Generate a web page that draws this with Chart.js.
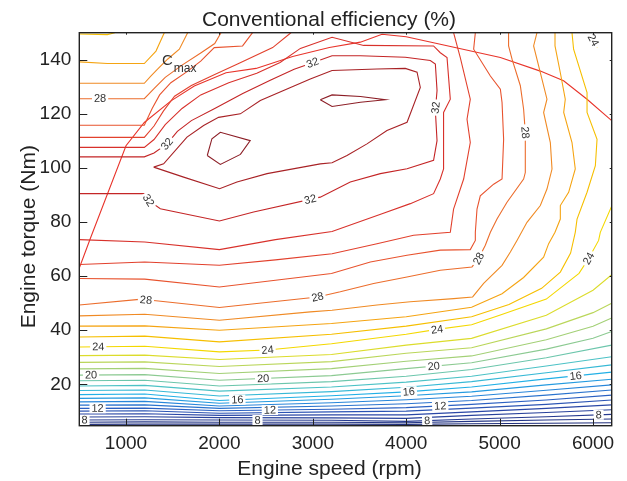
<!DOCTYPE html>
<html><head><meta charset="utf-8">
<script src="https://cdn.jsdelivr.net/npm/chart.js@4.4.1/dist/chart.umd.min.js"></script>
<style>html,body{margin:0;padding:0;background:#fff}#wrap{width:627px;height:481px}</style>
</head><body><div id="wrap"><canvas id="c" width="627" height="481"></canvas></div>
<script>
// ---- axes ----
const xTicks=[1000,2000,3000,4000,5000,6000];
const yTicks=[20,40,60,80,100,120,140];
const xRange=[500,6200];
const yRange=[4.7,150];

// ---- contour levels on a shared speed grid (torque in Nm) ----
const speedGrid=[500,1200,2000,3200,4000,4700,5500,6200];
const speedGridR=[500,1200,2000,3200,4000,4700,5500,6000,6200];
const c6 =[5.2,5.3,5.3,5.3,5.2,5.4,5.6,5.8];
const c7 =[6.0,6.1,6.0,6.0,5.8,6.3,6.8,7.2];
const c8 =[6.8,6.9,6.8,6.7,6.3,7.2,8.0,8.9];
const c9 =[7.9,8.0,7.7,7.6,7.4,8.5,9.6,10.6];
const c10=[9.0,9.1,8.5,8.7,8.7,9.8,11.1,12.4];
const c11=[10.1,10.2,9.3,9.8,10.1,11.2,12.6,14.2];
const c12=[11.1,11.2,10.2,10.8,11.4,12.6,14.2,16.0];
const c13=[12.3,12.4,11.1,12.0,12.8,14.0,16.0,17.9];
const c14=[13.5,13.7,12.0,13.2,14.3,15.6,17.8,19.8];
const c15=[14.8,15.0,13.0,14.5,15.8,17.2,19.8,21.9];
const c16=[16.2,16.4,14.0,15.8,17.2,19.0,22.0,24.5];
const c17=[17.7,17.9,15.7,17.3,18.9,21.0,24.3,27.2];
const c18=[19.4,19.6,17.5,19.0,20.8,23.0,26.8,30.2];
const c19=[21.3,21.5,19.4,21.0,23.0,25.5,29.8,34.5];
const c20=[23.4,23.6,21.5,23.2,25.8,28.0,33.0,37.0,39.5];
const c21=[25.7,25.9,24.0,25.8,28.5,30.5,36.5,41.5,44.5];
const c22=[28.1,28.3,26.6,28.4,31.5,33.5,40.5,46.5,50.0];
const c23=[30.6,30.8,29.2,31.0,34.5,37.0,45.5,54.8,60.5];

// ---- free-form contour paths [speed, torque] ----
const c24=[[500,33.8],[1200,34.1],[2000,32.0],[2516,32.7],[3200,35.0],[4000,38.5],[4330,40.3],[4700,42.0],[5000,45.5],[5500,51.5],[5850,61.0],[5953,66.5],[6060,73.2],[6078,76.2],[6203,86.1]];
const c24top=[[5960,150],[6045,144.5]];
const c25=[[500,37.5],[1200,37.8],[2000,35.7],[3200,38.5],[4000,41.5],[4700,45.0],[5100,49.5],[5450,55.5],[5650,61.5],[5760,68.5],[5810,76.2],[5829,81.1],[5936,91.0],[6025,100.8],[6043,110.6],[5936,120.5],[5936,127.9],[5792,143.9],[5775,150]];
const c25top=[[500,149.5],[800,149.3],[880,150]];
const c26=[[500,41.5],[1200,41.6],[2000,40.0],[3200,42.5],[4000,45.0],[4700,48.5],[5026,53.5],[5257,59.5],[5471,67.0],[5525,72.0],[5593,76.2],[5650,81.1],[5650,86.1],[5739,91.0],[5810,99.6],[5775,109.4],[5686,120.5],[5703,125.4],[5650,135.2],[5593,145.1],[5593,150]];
const c26top=[[500,139.2],[800,138.6],[1196,138.6],[1321,143.2],[1410,150]];
const c27=[[500,45.3],[1200,45.9],[2000,43.7],[2973,46.8],[3206,47.4],[3687,49.3],[4044,50.5],[4508,51.7],[4711,52.3],[4829,57.3],[5026,64.0],[5115,68.9],[5186,73.2],[5293,79.9],[5436,86.1],[5507,92.2],[5561,99.6],[5543,109.4],[5471,120.5],[5507,125.4],[5436,135.2],[5364,145.1],[5400,150]];
const c27top=[[500,131.3],[1196,131.3],[1268,134.0],[1338,136.5],[1445,140.2],[1571,143.9],[1660,150]];
const c28=[[500,49.3],[1142,51.4],[1321,50.9],[2000,48.4],[3051,52.3],[3294,54.2],[3651,57.3],[4008,59.7],[4365,62.2],[4704,63.4],[4775,66.5],[4847,71.4],[4901,76.2],[4972,81.1],[5079,87.3],[5257,95.9],[5275,98.3],[5275,113.1],[5257,121.7],[5222,130.4],[5133,140.2],[5096,145.1],[5096,150]];
const c28top=[[500,125.6],[1196,125.6],[1300,129.3],[1420,133.5],[1600,138.0],[1800,142.5],[1950,146.0],[2017,150]];
const c29=[[500,59.1],[1200,58.9],[2000,56.0],[2600,58.5],[3200,61.0],[3616,65.2],[4008,67.7],[4365,69.6],[4686,69.8],[4740,73.2],[4740,76.2],[4758,84.8],[4793,89.7],[4936,94.0],[5026,95.9],[5043,110.6],[5026,124.2],[5008,129.1],[4901,134.0],[4722,143.9],[4740,150]];
const c29top=[[500,115.8],[1196,115.8],[1280,122.0],[1360,127.0],[1480,131.5],[1650,135.5],[1800,139.5],[1945,144.5],[2248,145.1],[2355,150]];
const c30=[[500,64.3],[1200,65.2],[2000,64.0],[2600,66.0],[3206,68.3],[3687,72.0],[4079,75.1],[4472,76.2],[4507,84.8],[4615,95.9],[4686,109.4],[4651,118.0],[4686,125.4],[4579,140.8],[4507,150]];
const c30top=[[500,111.3],[1196,111.3],[1300,115.5],[1400,121.0],[1520,126.5],[1700,130.5],[1950,134.5],[2200,138.5],[2570,144.5],[2766,150]];
const c31=[[500,107.6],[1196,107.6],[1300,110.5],[1420,116.0],[1600,122.0],[1800,127.0],[2100,131.5],[2400,135.0],[2650,139.0],[2867,144.2],[3206,148.3],[3544,145.3],[4293,145.1],[4365,142.6],[4437,140.8],[4472,125.4],[4400,120.5],[4400,99.6],[4365,95.9],[4293,90.5],[4044,86.8],[3741,83.1],[3206,76.5],[2600,73.5],[2000,69.8],[1200,72.6],[500,73.5]];
const c32=[[500,104.1],[1196,104.1],[1300,105.5],[1439,108.9],[1550,113.5],[1700,117.5],[1950,122.0],[2250,127.5],[2550,132.5],[2800,136.5],[2998,138.9],[3206,141.5],[3509,141.5],[3990,140.9],[4258,139.7],[4312,138.4],[4330,128.6],[4312,121.2],[4330,110.1],[4293,102.8],[4009,99.7],[3723,97.9],[3401,94.8],[3080,89.2],[2366,83.7],[2000,80.4],[1367,84.9],[1242,88.0],[1196,90.5],[500,90.5]];
const c33=[[1296,100.3],[1617,96.6],[2002,92.3],[2188,94.8],[2510,97.9],[3080,101.5],[3206,101.9],[3366,104.6],[3580,108.9],[3794,113.8],[4009,116.9],[4151,129.8],[4116,135.4],[3990,136.8],[3687,136.6],[3206,136.0],[2973,132.9],[2438,124.9],[2224,120.0],[1991,118.7],[1831,115.7],[1653,111.4],[1403,101.5],[1296,100.3]];
const c34a=[[1870,104.6],[1920,110.8],[2010,113.2],[2330,110.1],[2225,105.0],[2010,101.3],[1870,104.6]];
const c34b=[[3080,125.2],[3206,127.0],[3510,126.4],[3776,125.2],[3510,124.3],[3206,122.7],[3080,125.2]];
const cmax=[[500,63.0],[618,73.9],[1000,108.2],[1196,116.8],[1482,124.8],[1731,130.3],[2071,135.2],[2392,136.8],[2784,141.2],[3177,144.5],[3509,146.5],[3741,149.4],[4000,148.5],[4365,145.7],[5008,140.8],[5436,135.8],[5685,132.2],[5936,125.4],[6203,117.4]];

// ---- labels: line name, fractional vertex index, text ----
const contourLabels=[
 ['c8',0.08,'8'],['c8',2.34,'8'],['c8',4.32,'8'],['c8',6.8,'8'],
 ['c12',0.28,'12'],['c12',2.45,'12'],['c12',4.52,'12'],
 ['c16',2.16,'16'],['c16',4.04,'16'],['c16',6.45,'16'],
 ['c20',0.18,'20'],['c20',2.39,'20'],['c20',4.42,'20'],
 ['c24',0.29,'24'],['c24',3.0,'24'],['c24',6.0,'24'],['c24',11.0,'24'],['c24top',0.5,'24'],
 ['c28',1.4,'28'],['c28',4.0,'28'],['c28',10.0,'28'],['c28',17.0,'28'],['c28top',0.32,'28'],
 ['c32',3.0,'32'],['c32',10.0,'32'],['c32',16.85,'32'],['c32',23.15,'32'],['c32',27.0,'32']
];
const cmaxLabelPos=[1385,138.1];

// ---- colour map (level -> colour) ----
const cmapStops=[[5,'#1d2a72'],[8,'#263a90'],[10,'#2a47a6'],[12,'#2b60c2'],[14,'#2886da'],[16,'#22b0e6'],[18,'#4cc2c6'],[20,'#8cca92'],[22,'#bad65a'],[23,'#dcdc2c'],[24,'#f4d800'],[25,'#f6bf00'],[26,'#f5a412'],[27,'#f08a24'],[28,'#ec6d2c'],[29,'#e8532e'],[30,'#e2412d'],[31,'#d8312b'],[32,'#c42526'],[33,'#a82226'],[34,'#8c1e26']];
function hex2rgb(h){return [1,3,5].map(i=>parseInt(h.substr(i,2),16));}
function levelColor(l){
  for(let i=0;i<cmapStops.length-1;i++){
    const [a,ca]=cmapStops[i],[b,cb]=cmapStops[i+1];
    if(l>=a&&l<=b){const f=(l-a)/(b-a),A=hex2rgb(ca),B=hex2rgb(cb);
      return 'rgb('+A.map((v,k)=>Math.round(v+(B[k]-v)*f)).join(',')+')';}
  }
  return l<5?cmapStops[0][1]:cmapStops[cmapStops.length-1][1];
}

// ---- assemble lines ----
const lines={};
[[6,c6],[7,c7],[8,c8],[9,c9],[10,c10],[11,c11],[12,c12],[13,c13],[14,c14],[15,c15],[16,c16],[17,c17],[18,c18],[19,c19],[20,c20],[21,c21],[22,c22],[23,c23]]
 .forEach(([lev,arr])=>{const g=arr.length===speedGridR.length?speedGridR:speedGrid;
   lines['c'+lev]={level:lev,pts:g.map((s,i)=>[s,arr[i]])};});
Object.entries({c24:[24,c24],c24top:[24,c24top],c25:[25,c25],c25top:[25,c25top],c26:[26,c26],c26top:[26,c26top],
 c27:[27,c27],c27top:[27,c27top],c28:[28,c28],c28top:[28,c28top],c29:[29,c29],c29top:[29,c29top],
 c30:[30,c30],c30top:[30,c30top],c31:[31,c31],c32:[32,c32],c33:[33,c33],c34a:[34,c34a],c34b:[34,c34b]})
 .forEach(([k,[lev,p]])=>{lines[k]={level:lev,pts:p};});

const datasets=Object.entries(lines).map(([k,L])=>({
  label:k,data:L.pts.map(p=>({x:p[0],y:p[1]})),showLine:true,borderColor:levelColor(L.level),
  borderWidth:1.1,pointRadius:0,tension:0,fill:false}));
datasets.push({label:'cmax',data:cmax.map(p=>({x:p[0],y:p[1]})),showLine:true,borderColor:'#e8342b',borderWidth:1.1,pointRadius:0,tension:0,fill:false});

const FONT='"Liberation Sans", Arial, Helvetica, sans-serif';
const deco={
 id:'deco',
 afterDatasetsDraw(chart){
  const {ctx,chartArea:a,scales:{x,y}}=chart;
  ctx.save();
  ctx.beginPath();ctx.rect(a.left,a.top,a.right-a.left,a.bottom-a.top);ctx.clip();
  ctx.font='11px '+FONT;ctx.textAlign='center';ctx.textBaseline='middle';
  contourLabels.forEach(([name,t,text])=>{
    const pts=lines[name].pts;const i=Math.min(Math.floor(t),pts.length-2);const f=t-i;
    const x0=x.getPixelForValue(pts[i][0]),y0=y.getPixelForValue(pts[i][1]);
    const x1=x.getPixelForValue(pts[i+1][0]),y1=y.getPixelForValue(pts[i+1][1]);
    const cx=x0+(x1-x0)*f,cy=y0+(y1-y0)*f;
    let ang=Math.atan2(y1-y0,x1-x0);
    if(ang>Math.PI/2)ang-=Math.PI;if(ang<-Math.PI/2)ang+=Math.PI;
    ctx.save();ctx.translate(cx,cy);ctx.rotate(ang);
    const w=ctx.measureText(text).width+4;
    ctx.fillStyle='#fff';ctx.fillRect(-w/2,-5,w,10);
    ctx.fillStyle='#333';ctx.fillText(text,0,0.5);
    ctx.restore();
  });
  // Cmax label
  const lx=x.getPixelForValue(cmaxLabelPos[0]),ly=y.getPixelForValue(cmaxLabelPos[1]);
  ctx.fillStyle='#333';ctx.textAlign='left';ctx.textBaseline='alphabetic';
  ctx.font='15px '+FONT;ctx.fillText('C',lx,ly);
  const cw=ctx.measureText('C').width;
  ctx.font='12px '+FONT;ctx.fillText('max',lx+cw+1,ly+7);
  ctx.restore();

  // frame and ticks
  ctx.save();
  ctx.strokeStyle='#222';ctx.lineWidth=1.4;
  ctx.strokeRect(a.left,a.top,a.right-a.left,a.bottom-a.top);
  ctx.lineWidth=1;ctx.beginPath();
  xTicks.forEach(v=>{const p=Math.round(x.getPixelForValue(v))+0.5;
    ctx.moveTo(p,a.bottom);ctx.lineTo(p,a.bottom-7);ctx.moveTo(p,a.top);ctx.lineTo(p,a.top+2);});
  yTicks.forEach(v=>{const p=Math.round(y.getPixelForValue(v))+0.5;
    ctx.moveTo(a.left,p);ctx.lineTo(a.left+8,p);ctx.moveTo(a.right,p);ctx.lineTo(a.right-2,p);});
  ctx.stroke();
  // titles
  ctx.fillStyle='#222';ctx.textAlign='center';ctx.textBaseline='alphabetic';
  ctx.font='21px '+FONT;
  ctx.fillText('Conventional efficiency (%)',329,26);
  ctx.fillText('Engine speed (rpm)',329.5,475);
  ctx.translate(35,236.7);ctx.rotate(-Math.PI/2);
  ctx.fillText('Engine torque (Nm)',0,0);
  ctx.restore();
 }
};

new Chart(document.getElementById('c'),{
 type:'scatter',
 data:{datasets},
 options:{
  responsive:false,animation:false,devicePixelRatio:1,
  layout:{padding:{left:0,right:15.3,top:32.7,bottom:0}},
  plugins:{legend:{display:false},tooltip:{enabled:false},title:{display:false}},
  scales:{
   x:{type:'linear',min:xRange[0],max:xRange[1],
      afterBuildTicks:s=>{s.ticks=xTicks.map(v=>({value:v}));},
      afterFit:s=>{s.height=55.3;},
      grid:{display:false,drawTicks:false},border:{display:false},
      ticks:{font:{size:19,family:FONT},color:'#222',padding:7,maxRotation:0,autoSkip:false,callback:v=>String(v)}},
   y:{type:'linear',min:yRange[0],max:yRange[1],
      afterBuildTicks:s=>{s.ticks=yTicks.map(v=>({value:v}));},
      afterFit:s=>{s.width=79.3;},
      grid:{display:false,drawTicks:false},border:{display:false},
      ticks:{font:{size:19,family:FONT},color:'#222',padding:8,autoSkip:false,callback:v=>String(v)}}
  }
 },
 plugins:[deco]
});
</script></body></html>
